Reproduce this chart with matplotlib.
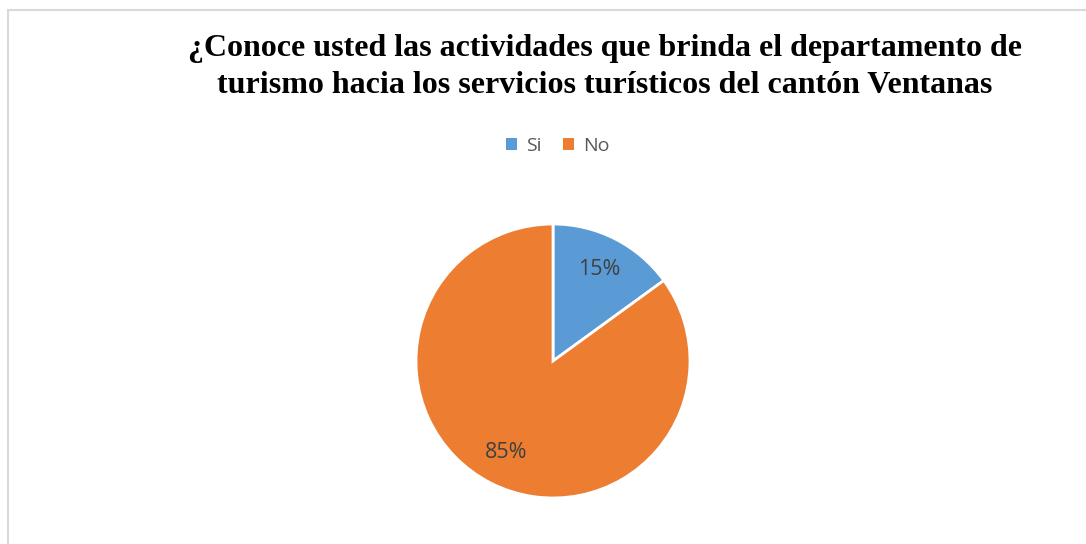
import matplotlib
matplotlib.use("Agg")
import matplotlib.pyplot as plt
from matplotlib.patches import Rectangle, Patch

# data
labels = ["Si", "No"]
values = [15, 85]
colors = ["#5B9BD5", "#ED7D31"]
title = ("¿Conoce usted las actividades que brinda el departamento de\n"
         "turismo hacia los servicios turísticos del cantón Ventanas")

W, H = 1086, 544
fig = plt.figure(figsize=(W / 100, H / 100), dpi=100)

# chart frame (runs off the right and bottom edges)
fig.patches.append(Rectangle((7.5 / W, -0.1), 1.2, 1.1 - 10.5 / H,
                             transform=fig.transFigure, fill=False,
                             edgecolor="#d9d9d9", linewidth=1.5))

# pie axes: centre (553, 361), radius 137 px
r = 137
ax = fig.add_axes([(553 - r) / W, (H - 361 - r) / H, 2 * r / W, 2 * r / H])
wedges, _, autotexts = ax.pie(values, colors=colors, startangle=90,
                              counterclock=False, autopct="%1.0f%%",
                              pctdistance=0.75, radius=1.0,
                              wedgeprops=dict(edgecolor="white", linewidth=2),
                              textprops=dict(color="#404040", fontsize=15.5,
                                             family="Open Sans"))
ax.set_xlim(-1, 1)
ax.set_ylim(-1, 1)
ax.set_aspect("equal")
ax.axis("off")

fig.text(605 / W, 1 - 67 / H, title, ha="center", va="center",
         fontsize=23, fontweight="bold", family="Liberation Serif",
         linespacing=1.4, color="black")

handles = [Patch(facecolor=c, edgecolor="none") for c in colors]
leg = fig.legend(handles, labels, loc="center", ncol=2, frameon=False,
                 bbox_to_anchor=(558 / W, 1 - 146 / H),
                 handlelength=0.55, handleheight=0.55, handletextpad=0.5,
                 columnspacing=1.1,
                 prop=dict(family="Open Sans", size=14))
for t in leg.get_texts():
    t.set_color("#595959")

fig.savefig("out.png", dpi=100, facecolor="white")
